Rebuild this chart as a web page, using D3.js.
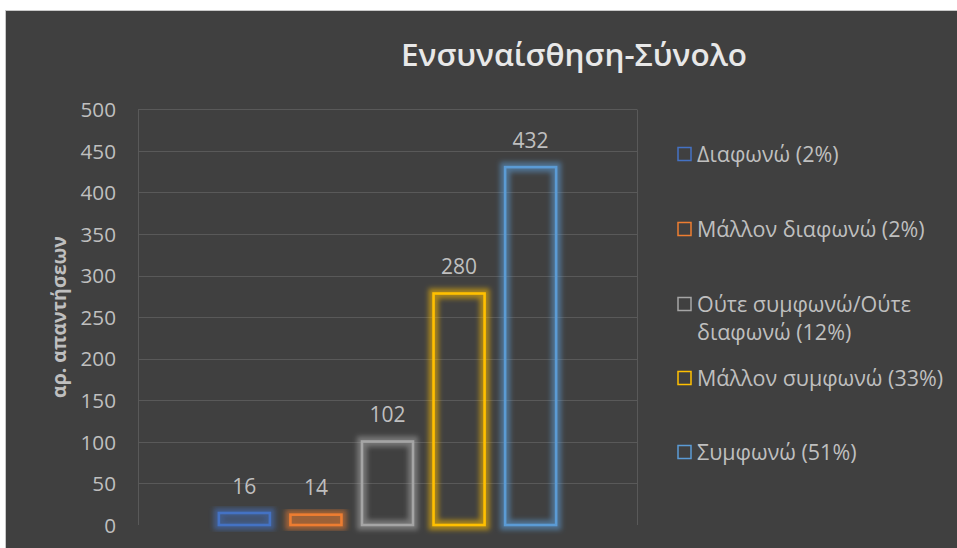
<!DOCTYPE html>
<html>
<head>
<meta charset="utf-8">
<script src="https://cdn.jsdelivr.net/npm/d3@7/dist/d3.min.js"></script>
<style>
  html, body { margin: 0; padding: 0; background: #ffffff; }
  svg { display: block; }
</style>
</head>
<body>
<svg id="chart" width="957" height="548"></svg>
<script>
// Response categories, counts and legend labels
const categories = ["Διαφωνώ", "Μάλλον διαφωνώ", "Ούτε συμφωνώ/Ούτε διαφωνώ", "Μάλλον συμφωνώ", "Συμφωνώ"];
const counts = [16, 14, 102, 280, 432];
const percents = [2, 2, 12, 33, 51];
const legendLines = [
  ["Διαφωνώ (2%)"],
  ["Μάλλον διαφωνώ (2%)"],
  ["Ούτε συμφωνώ/Ούτε", "διαφωνώ (12%)"],
  ["Μάλλον συμφωνώ (33%)"],
  ["Συμφωνώ (51%)"]
];
const colors = ["#4472c4", "#ed7d31", "#a5a5a5", "#ffc000", "#5b9bd5"];
const yTicks = [0, 50, 100, 150, 200, 250, 300, 350, 400, 450, 500];
const titleText = "Ενσυναίσθηση-Σύνολο";
const yTitle = "αρ. απαντήσεων";

const FONT = "'Open Sans', 'Noto Sans', sans-serif";
const TEXT = "#bfbfbf";

const svg = d3.select("#chart");

// dark panel
svg.append("rect").attr("x", 5.5).attr("y", 10.5).attr("width", 952).attr("height", 538)
  .attr("fill", "#404040").attr("stroke", "#c8c8c8").attr("stroke-width", 1);

const plot = { left: 138, right: 637, top: 109.3, bottom: 525 };

const y = d3.scaleLinear().domain([0, 500]).range([plot.bottom, plot.top]);
const x = d3.scaleBand().domain(categories).range([plot.left, plot.right])
  .paddingInner(0.287).paddingOuter(1.13);

// blur used for the soft glow behind each bar outline
const defs = svg.append("defs");
defs.append("filter").attr("id", "soft")
  .attr("x", "-50%").attr("y", "-50%").attr("width", "200%").attr("height", "200%")
  .append("feGaussianBlur").attr("stdDeviation", 2.8);

// gridlines and plot side borders
const grid = svg.append("g");
grid.selectAll("line.h").data(yTicks.filter(t => t > 0)).join("line")
  .attr("x1", plot.left).attr("x2", plot.right)
  .attr("y1", d => Math.round(y(d)) + 0.5).attr("y2", d => Math.round(y(d)) + 0.5)
  .attr("stroke", "#595959").attr("stroke-width", 1);
[plot.left, plot.right].forEach(px => {
  grid.append("line").attr("x1", px + 0.5).attr("x2", px + 0.5)
    .attr("y1", Math.round(plot.top) + 0.5).attr("y2", plot.bottom)
    .attr("stroke", "#595959").attr("stroke-width", 1);
});

// y axis labels
const yAxis = d3.axisLeft(y).tickValues(yTicks).tickSize(0).tickPadding(0);
const gy = svg.append("g").attr("transform", "translate(116,0)").call(yAxis);
gy.select(".domain").remove();
gy.selectAll("text").attr("fill", TEXT).attr("font-family", FONT).attr("font-size", 20.7)
  .attr("dy", "0.35em");

// y axis title
svg.append("text")
  .attr("transform", `translate(66,${317}) rotate(-90)`)
  .attr("text-anchor", "middle")
  .attr("font-family", FONT).attr("font-size", 19.5).attr("font-weight", 700)
  .attr("fill", TEXT).text(yTitle);

// title
svg.append("text").attr("x", 574).attr("y", 66).attr("text-anchor", "middle")
  .attr("font-family", FONT).attr("font-size", 31.5).attr("font-weight", 600)
  .attr("fill", "#e8e8e8").text(titleText);

// bars: blurred halo then crisp outline
const sw = 2.6;
const barX = d => x(d);
const barY = (d, i) => y(counts[i]) + sw / 2;
const barH = (d, i) => y(0) - y(counts[i]) - sw / 2;
const bars = svg.append("g");
bars.selectAll("rect.halo").data(categories).join("rect").attr("class", "halo")
  .attr("x", barX).attr("y", barY).attr("width", x.bandwidth()).attr("height", barH)
  .attr("fill", "none").attr("stroke", (d, i) => colors[i])
  .attr("stroke-width", 10).attr("stroke-opacity", 0.55)
  .attr("filter", "url(#soft)");
bars.selectAll("rect.bar").data(categories).join("rect").attr("class", "bar")
  .attr("x", barX).attr("y", barY).attr("width", x.bandwidth()).attr("height", barH)
  .attr("fill", "none").attr("stroke", (d, i) => colors[i]).attr("stroke-width", sw);

// value labels
svg.append("g").selectAll("text").data(categories).join("text")
  .attr("x", d => x(d) + x.bandwidth() / 2)
  .attr("y", (d, i) => y(counts[i]) - 18)
  .attr("text-anchor", "middle")
  .attr("font-family", FONT).attr("font-size", 21).attr("fill", TEXT)
  .text((d, i) => counts[i]);

// legend
const legendY = [154, 229, 304, 378, 452];
const lg = svg.append("g");
categories.forEach((c, i) => {
  lg.append("rect").attr("x", 678).attr("y", legendY[i] - 6.5).attr("width", 13).attr("height", 13)
    .attr("fill", "none").attr("stroke", colors[i]).attr("stroke-width", 1.5);
  const t = lg.append("text").attr("y", legendY[i])
    .attr("font-family", FONT).attr("font-size", 21.5).attr("fill", TEXT);
  legendLines[i].forEach((ln, k) => {
    t.append("tspan").attr("x", 697).attr("dy", k === 0 ? "0.35em" : 28).text(ln);
  });
});
</script>
</body>
</html>
